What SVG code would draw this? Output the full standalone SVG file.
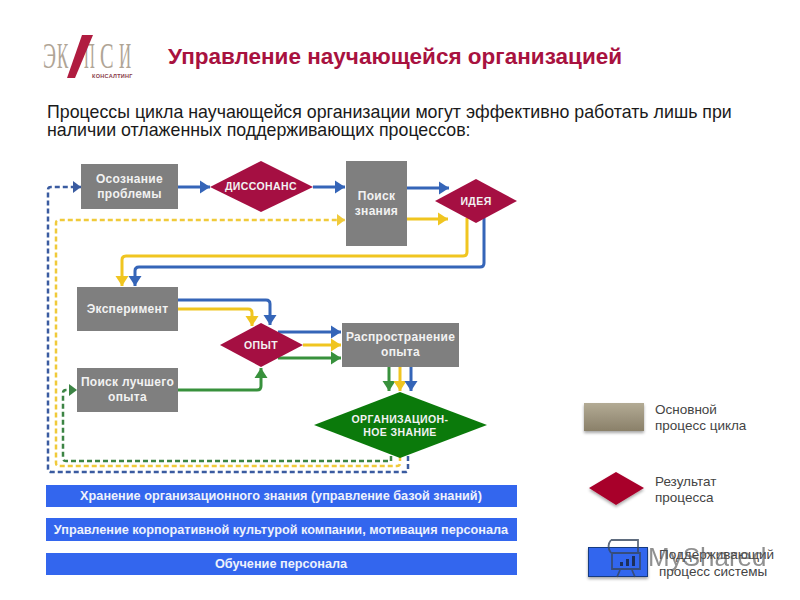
<svg xmlns="http://www.w3.org/2000/svg" width="800" height="600" viewBox="0 0 800 600">
<defs>
<linearGradient id="tan" x1="0" y1="0" x2="0" y2="1"><stop offset="0" stop-color="#b3ab95"/><stop offset="1" stop-color="#8a8069"/></linearGradient>
<filter id="sh" x="-10%" y="-20%" width="120%" height="150%"><feDropShadow dx="0" dy="2" stdDeviation="1.500" flood-color="#000" flood-opacity=".35"/></filter>
<marker id="aB" markerUnits="userSpaceOnUse" markerWidth="11" markerHeight="14" refX="10" refY="7" orient="auto"><path d="M0 0.500L10 7L0 13.500Z" fill="#3565b8"/></marker>
<marker id="aY" markerUnits="userSpaceOnUse" markerWidth="11" markerHeight="14" refX="10" refY="7" orient="auto"><path d="M0 0.500L10 7L0 13.500Z" fill="#f0c520"/></marker>
<marker id="aG" markerUnits="userSpaceOnUse" markerWidth="11" markerHeight="14" refX="10" refY="7" orient="auto"><path d="M0 0.500L10 7L0 13.500Z" fill="#38913c"/></marker>
<marker id="aDB" markerUnits="userSpaceOnUse" markerWidth="9" markerHeight="12" refX="8" refY="6" orient="auto"><path d="M0 0L8 6L0 12Z" fill="#3a5ba0"/></marker>
<marker id="aDY" markerUnits="userSpaceOnUse" markerWidth="9" markerHeight="12" refX="8" refY="6" orient="auto"><path d="M0 0L8 6L0 12Z" fill="#f0ca3a"/></marker>
<marker id="aDG" markerUnits="userSpaceOnUse" markerWidth="9" markerHeight="12" refX="8" refY="6" orient="auto"><path d="M0 0L8 6L0 12Z" fill="#3c8444"/></marker>
</defs>
<style>
text{font-family:"Liberation Sans",Arial,sans-serif}
.box{fill:#7f7f7f}
.res{fill:#a50f42}
.n{fill:#f2f2f2;font-size:12px;font-weight:bold;text-anchor:middle;letter-spacing:.3px}
.d{fill:#f2f2f2;font-size:10.500px;font-weight:bold;text-anchor:middle;letter-spacing:.4px}
.bar{fill:#3366ee}
.b{fill:#eef2fc;font-size:12.700px;font-weight:bold;text-anchor:middle}
.leg{fill:#444;font-size:13.500px}
.lg{font-family:"Liberation Serif",serif;font-size:24px;fill:#b0a596}
.c{fill:none;stroke-width:3;stroke-linejoin:round}
.dash{fill:none;stroke-width:2.500;stroke-dasharray:5 3;stroke-linejoin:round}
.bl{stroke:#3565b8}.ye{stroke:#f0c520}.gr{stroke:#38913c}
.dbl{stroke:#3a5ba0}.dye{stroke:#f0ca3a}.dgr{stroke:#3c8444}
</style>
<rect width="800" height="600" fill="#fff"/>

<g id="logo">
<text class="lg" transform="translate(43 68) scale(.82 1.500)">Э</text>
<text class="lg" transform="translate(57 68) scale(.7 1.500)">К</text>
<text class="lg" transform="translate(84 68) scale(.62 1.500)">П</text>
<text class="lg" transform="translate(100 68) scale(.85 1.500)">С</text>
<text class="lg" transform="translate(119 68) scale(.7 1.500)">И</text>
<polygon points="82,35 93,35 75,78 67,78" fill="#b01c40"/>
<text x="92" y="78" font-size="5.500" font-weight="bold" fill="#8a3a4a" letter-spacing=".3">КОНСАЛТИНГ</text>
</g>
<text x="168" y="64" font-size="22.500" font-weight="bold" fill="#a8123f">Управление научающейся организацией</text>
<text x="47" y="118" font-size="17.800" fill="#1a1a1a">Процессы цикла научающейся организации могут эффективно работать лишь при</text>
<text x="47" y="136" font-size="17.800" fill="#1a1a1a">наличии отлаженных поддерживающих процессов:</text>

<g id="connectors">
<path class="dash dbl" d="M408 456V469Q408 472 405 472H51Q48 472 48 469V190Q48 187 51 187H81" marker-end="url(#aDB)"/>
<path class="dash dye" d="M400 456V463Q400 466 397 466H59Q56 466 56 463V223Q56 220 59 220H345" marker-end="url(#aDY)"/>
<path class="dash dgr" d="M391 456V461H66Q63 461 63 458V393Q63 390 66 390H77" marker-end="url(#aDG)"/>
<path class="c bl" d="M178 187H210" marker-end="url(#aB)"/>
<path class="c bl" d="M313 187H345" marker-end="url(#aB)"/>
<path class="c bl" d="M407 188H449" marker-end="url(#aB)"/>
<path class="c ye" d="M407 219H448" marker-end="url(#aY)"/>
<path class="c ye" d="M467 218V252Q467 256 463 256H126Q122 256 122 260V286" marker-end="url(#aY)"/>
<path class="c bl" d="M484 218V263Q484 267 480 267H139Q135 267 135 271V286" marker-end="url(#aB)"/>
<path class="c bl" d="M178 300H266Q270 300 270 304V325" marker-end="url(#aB)"/>
<path class="c ye" d="M178 309H248Q252 309 252 313V326" marker-end="url(#aY)"/>
<path class="c bl" d="M278 332H341" marker-end="url(#aB)"/>
<path class="c ye" d="M303 345H341" marker-end="url(#aY)"/>
<path class="c gr" d="M278 358H341" marker-end="url(#aG)"/>
<path class="c gr" d="M178 390H257Q261 390 261 386V368" marker-end="url(#aG)"/>
<path class="c gr" d="M389 367V391" marker-end="url(#aG)"/>
<path class="c ye" d="M400 367V391" marker-end="url(#aY)"/>
<path class="c bl" d="M411 367V391" marker-end="url(#aB)"/>
</g>

<g id="n1"><rect class="box" x="81" y="164" width="97" height="45"/><text class="n" x="129.500" y="183">Осознание</text><text class="n" x="129.500" y="198">проблемы</text></g>
<g id="n2"><polygon class="res" points="210,187 261,161 313,187 261,212"/><text class="d" x="261" y="190">ДИССОНАНС</text></g>
<g id="n3"><rect class="box" x="346" y="161" width="61" height="85"/><text class="n" x="376.500" y="200">Поиск</text><text class="n" x="376.500" y="215">знания</text></g>
<g id="n4"><polygon class="res" points="435,201 476,179 517,201 476,223"/><text class="d" x="476" y="205">ИДЕЯ</text></g>
<g id="n5"><rect class="box" x="77" y="287" width="101" height="44"/><text class="n" x="127.500" y="313">Эксперимент</text></g>
<g id="n6"><rect class="box" x="77" y="368" width="101" height="44"/><text class="n" x="127.500" y="386">Поиск лучшего</text><text class="n" x="127.500" y="401">опыта</text></g>
<g id="n7"><polygon class="res" points="220,345 261,323 303,345 261,367"/><text class="d" x="261" y="349">ОПЫТ</text></g>
<g id="n8"><rect class="box" x="342" y="323" width="117" height="44"/><text class="n" x="400.500" y="341">Распространение</text><text class="n" x="400.500" y="356">опыта</text></g>
<g id="n9"><polygon points="314,425 400,392 487,425 400,458" fill="#0b7a0b"/><text class="d" x="400" y="423" fill="#d8f0d0">ОРГАНИЗАЦИОН-</text><text class="d" x="400" y="436" fill="#d8f0d0">НОЕ ЗНАНИЕ</text></g>

<g id="bar1"><rect class="bar" x="46" y="485" width="471" height="22"/><text class="b" x="281" y="500">Хранение организационного знания (управление базой знаний)</text></g>
<g id="bar2"><rect class="bar" x="46" y="518" width="471" height="23"/><text class="b" x="281" y="534">Управление корпоративной культурой компании, мотивация персонала</text></g>
<g id="bar3"><rect class="bar" x="46" y="553" width="471" height="22"/><text class="b" x="281" y="568">Обучение персонала</text></g>

<g id="legend1"><rect x="584" y="403" width="60" height="28" fill="url(#tan)" filter="url(#sh)"/><text class="leg" x="655" y="414">Основной</text><text class="leg" x="655" y="430">процесс  цикла</text></g>
<g id="legend2"><polygon points="589,488 616,472 644,488 616,505" fill="#a8062c" filter="url(#sh)"/><text class="leg" x="655" y="486">Результат</text><text class="leg" x="655" y="502">процесса</text></g>
<g id="legend3"><rect x="588.500" y="547.500" width="59" height="29" fill="#3366ee" stroke="#123a80" filter="url(#sh)"/><text class="leg" x="659" y="559">Поддерживающий</text><text class="leg" x="659" y="576">процесс системы</text></g>
<g id="watermark">
<path d="M611 540H638V552M611 540Q606 546 611 553M612 553H640V569H612ZM620 570L617 577M632 570L635 577" fill="none" stroke="#37475e" stroke-width="1.800" opacity=".8"/>
<path d="M620 566v-4h3v4zM626 566v-7h3v7zM632 566v-10h3v10z" fill="#1c2f5a"/>
<text x="648" y="566" font-size="26" fill="#555" opacity=".65">MyShared</text>
</g>
</svg>
